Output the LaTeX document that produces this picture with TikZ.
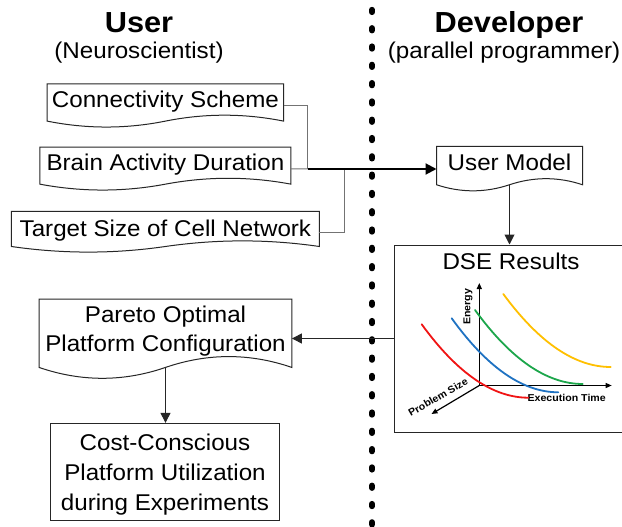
\documentclass[tikz,border=0pt]{standalone}
\usepackage{fontspec}
\setmainfont{Liberation Sans}[FakeStretch=1.06]
\usetikzlibrary{arrows.meta,calc}
\definecolor{cred}{HTML}{F01414}
\definecolor{cblue}{HTML}{1F72C2}
\definecolor{cgreen}{HTML}{1CA64B}
\definecolor{cyellow}{HTML}{FFC000}
\newcommand\docoutline[1]{%
  \draw[boxline] let \p1=(#1.south west), \p2=(#1.north east),
      \n1={\x2-\x1}, \n2={\y2-\y1} in
    (\x1,\y2) -- (\x2,\y2) -- (\x2,{\y1+0.15*\n2})
    .. controls ({\x2-\n1/6},{\y1+0.33*\n2}) and ({\x1+\n1*2/3},{\y1+0.33*\n2})
    .. ({\x1+\n1/2},{\y1+0.15*\n2})
    .. controls ({\x1+\n1/3},{\y1-0.03*\n2}) and ({\x1+\n1/6},{\y1-0.03*\n2})
    .. (\x1,{\y1+0.15*\n2}) -- cycle;}
\begin{document}
\begin{tikzpicture}[x=1pt,y=-1pt,
  txt/.style={font=\fontsize{22.8}{28.5}\selectfont, inner sep=0pt},
  doctext/.style={txt, text height=16.6pt, text depth=4.8pt},
  docnode/.style={shape=rectangle, inner sep=0pt, draw=none},
  boxline/.style={draw=black!85, line width=1pt},
  branch/.style={draw=black!55, line width=1pt},
  trunk/.style={draw=black, line width=2pt, -{Triangle[length=11pt,width=11pt]}},
  flow/.style={draw=black!85, line width=1pt, -{Triangle[length=10pt,width=10pt]}},
  title/.style={font=\fontsize{29}{34}\selectfont\bfseries, inner sep=0pt, anchor=base},
  subtitle/.style={txt, anchor=base},
  divider/.style={line width=6pt, line cap=round, dash pattern=on 2.3pt off 16pt},
  axis/.style={draw=black, line width=1.2pt, -{Triangle[length=6pt,width=5pt]}},
  axlabel/.style={font=\fontsize{10}{12}\selectfont\bfseries, inner sep=0pt},
  curve/.style={line width=1.8pt, line cap=round},
]
\useasboundingbox (0,0) rectangle (622,527);
\fill[white] (0,0) rectangle (622,527);

% column titles
\node[title] (tuser) at (139,33) {User};
\node[subtitle] (suser) at (139,58.5) {(Neuroscientist)};
\node[title] (tdev) at (509,33) {Developer};
\node[subtitle] (sdev) at (504,58.5) {(parallel programmer)};

% divider
\coordinate (dtop) at (372,9.8);
\coordinate (dbot) at (372,530);
\draw[divider] (dtop) -- (dbot);

% user input documents
\node[docnode, minimum width=236pt, minimum height=43.5pt,
  label={[doctext, yshift=3.7pt]center:Connectivity Scheme}] (cs) at (165.4,105.75) {};
\node[docnode, minimum width=250.7pt, minimum height=43.2pt,
  label={[doctext, yshift=4.8pt]center:Brain Activity Duration}] (bad) at (165.4,168.9) {};
\node[docnode, minimum width=307.6pt, minimum height=41pt,
  label={[doctext, yshift=1.5pt]center:Target Size of Cell Network}] (ts) at (165.4,232) {};
\node[docnode, minimum width=145.6pt, minimum height=44.6pt,
  label={[doctext, yshift=4pt]center:User Model}] (um) at (509.5,169) {};
\node[docnode, minimum width=252.4pt, minimum height=80pt,
  label={[txt, align=center, yshift=8.3pt]center:Pareto Optimal\\Platform Configuration}] (po) at (165.5,339.3) {};
\docoutline{cs}
\docoutline{bad}
\docoutline{ts}
\docoutline{um}
\docoutline{po}

% cost box
\node[boxline, draw, shape=rectangle, inner sep=0pt, minimum width=228.6pt, minimum height=96.7pt,
  label={[txt, align=center, font=\fontsize{22.8}{30}\selectfont, yshift=-3.4pt]center:Cost-Conscious\\Platform Utilization\\during Experiments}] (cost) at (165,471.7) {};

% DSE box
\node[boxline, draw, shape=rectangle, minimum width=228.7pt, minimum height=187pt] (dse) at (508.65,338.5) {};
\node[txt, anchor=base] (dsetitle) at (511,269.3) {DSE Results};

% chart
\coordinate (org) at (479.3,385.5);
\coordinate (etip) at (479.3,283);
\coordinate (xtip) at (611.7,385.5);
\coordinate (ptip) at (431.5,414);
\draw[axis] (org) -- (etip);
\draw[axis] (org) -- (xtip);
\draw[axis] (org) -- (ptip);
\node[axlabel, rotate=90] (lenergy) at (468,306.7) {Energy};
\node[axlabel] (lexec) at (566.7,397.7) {Execution Time};
\node[axlabel, rotate=30] (lprob) at (438,397) {Problem Size};
\draw[curve, cyellow] (503.3,294) .. controls (539.1,342.7) and (574.9,367) .. (610.7,367);
\draw[curve, cgreen] (475,310) .. controls (510.9,359.3) and (546.8,384) .. (582.7,384);
\draw[curve, cblue] (451.7,318.3) .. controls (487.2,367.6) and (522.8,392.3) .. (558.3,392.3);
\draw[curve, cred] (421.7,324.3) .. controls (457.2,373.2) and (492.8,397.7) .. (528.3,397.7);

% connectors
\coordinate (j1) at (307.7,169);
\coordinate (j2) at (344,169);
\draw[branch] (cs.east) -| (j1);
\draw[branch] (bad.east) -- (j1);
\draw[branch] (ts.east) -| (j2);
\draw[trunk] (j1) -- (um.west);
\coordinate (umb) at ($(um.south)!0.15!(um.north)$);
\draw[flow] (umb) -- (umb |- dse.north);
\draw[flow] (dse.west) -- (dse.west -| po.east);
\coordinate (pob) at ($(po.south)!0.15!(po.north)$);
\draw[flow] (pob) -- (pob |- cost.north);
\end{tikzpicture}
\end{document}
